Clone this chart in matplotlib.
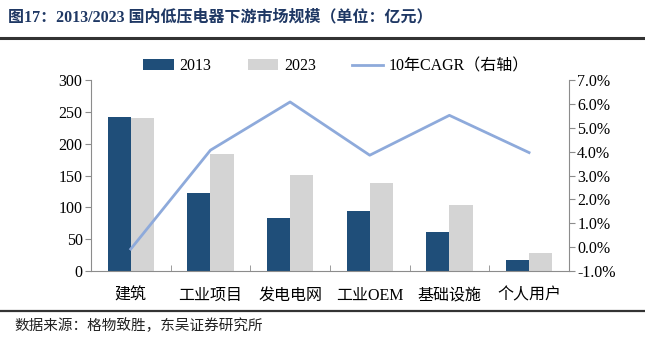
import numpy as np
import matplotlib.pyplot as plt
from matplotlib.ticker import FuncFormatter, FixedLocator

plt.rcParams['font.family'] = ['Liberation Serif', 'Noto Sans CJK SC']

categories = ['建筑', '工业项目', '发电电网', '工业OEM', '基础设施', '个人用户']
size_2013 = [242, 123, 83, 95, 61, 18]
size_2023 = [240, 183, 151, 139, 104, 28]
cagr = [-0.08, 4.06, 6.08, 3.85, 5.52, 3.96]

c2013 = '#1f4e79'
c2023 = '#d4d4d4'
cline = '#8eaadb'
spine_c = '#8c8c8c'

fig = plt.figure(figsize=(6.45, 3.39), dpi=100)
ax = fig.add_axes([0.141, 0.2006, 0.741, 0.5634])
ax2 = ax.twinx()

x = np.arange(len(categories))
w = 0.29
b1 = ax.bar(x - w / 2, size_2013, w, color=c2013, label='2013', zorder=2)
b2 = ax.bar(x + w / 2, size_2023, w, color=c2023, label='2023', zorder=2)
l1, = ax2.plot(x, cagr, color=cline, lw=2, label='10年CAGR（右轴）')

ax.set_xlim(-0.5, len(categories) - 0.5)
ax.set_ylim(0, 300)
ax.set_yticks(range(0, 301, 50))
ax2.set_ylim(-1, 7)
ax2.set_yticks(range(-1, 8))
ax2.yaxis.set_major_formatter(FuncFormatter(lambda v, p: f'{v:.1f}%'))

ax.set_xticks(x)
ax.set_xticklabels(categories)
ax.xaxis.set_minor_locator(FixedLocator(np.arange(-0.5, len(categories), 1)))
ax.tick_params(axis='x', which='major', length=0, pad=12, labelsize=11.5)
ax.tick_params(axis='x', which='minor', length=4, color=spine_c, direction='in')
ax.tick_params(axis='y', length=4, color=spine_c, labelsize=11.5, pad=2)
ax2.tick_params(axis='y', length=4, color=spine_c, labelsize=11.5, pad=2)

for a in (ax, ax2):
    a.spines['top'].set_visible(False)
    for s in ('left', 'right', 'bottom'):
        a.spines[s].set_color(spine_c)
ax.spines['right'].set_visible(False)
ax2.spines['left'].set_visible(False)
ax2.spines['bottom'].set_visible(False)

fig.legend([b1, b2, l1], ['2013', '2023', '10年CAGR（右轴）'],
           loc='center left', bbox_to_anchor=(0.2, 0.805), ncol=3,
           frameon=False, fontsize=11.5, handlelength=1.9, handleheight=0.6,
           columnspacing=2.3, handletextpad=0.35)

fig.text(0.012, 0.948, '图17：2013/2023 国内低压电器下游市场规模（单位：亿元）',
         fontsize=11.5, fontweight='bold', color='#1f3864', va='center')
fig.add_artist(plt.Line2D([0.0, 1.0], [0.888, 0.888], color='#333333', lw=2.2))
fig.add_artist(plt.Line2D([0.0, 1.0], [0.083, 0.083], color='#333333', lw=1.6))
fig.text(0.022, 0.04, '数据来源：格物致胜，东吴证券研究所', fontsize=10.5,
         color='#222222', va='center')

fig.savefig('out.png', dpi=100)
